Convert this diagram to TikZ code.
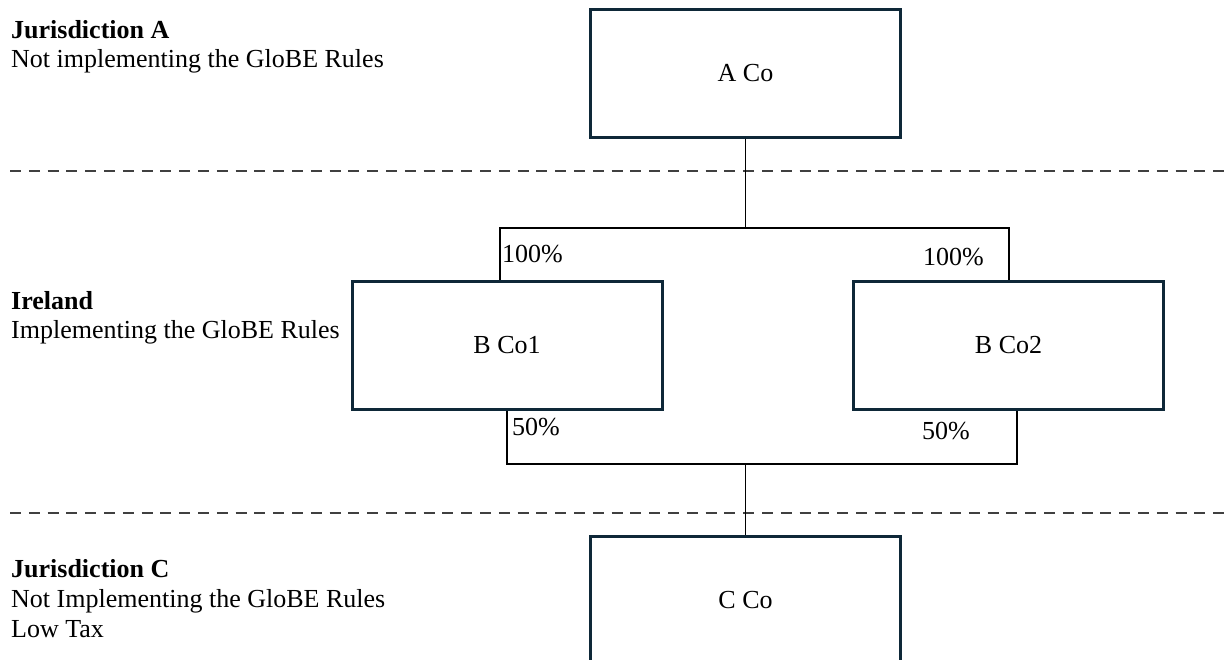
\documentclass[tikz,border=0pt]{standalone}
\usepackage{fontspec}
\setmainfont{Liberation Serif}
\definecolor{boxnavy}{RGB}{14,40,56}
\definecolor{rulegray}{RGB}{64,64,64}
\begin{document}
\begin{tikzpicture}[x=1pt,y=-1pt,
  font=\fontsize{26}{30}\selectfont,
  entity/.style={draw=boxnavy, line width=3pt, fill=white,
    minimum width=310pt, minimum height=128pt, inner sep=0pt},
  link/.style={draw=black, line width=1.3pt},
  border/.style={draw=rulegray, line width=2pt, dash pattern=on 11pt off 7.8pt},
  lbl/.style={anchor=base west, inner sep=0pt}]
\clip (0,0) rectangle (1224,659);
\fill[white] (0,0) rectangle (1224,659);

% jurisdiction separators
\coordinate (d1w) at (10,171);
\coordinate (d1e) at (1224,171);
\coordinate (d2w) at (10,513);
\coordinate (d2e) at (1224,513);
\draw[border] (d1w) -- (d1e);
\draw[border] (d2w) -- (d2e);

% entities
\node[entity] (A)  at (745.5,73)  {A Co};
\node[entity] (B1) at (507,345)   {B Co1};
\node[entity] (B2) at (1008.5,345){B Co2};
\node[entity] (C)  at (745.5,600) {C Co};

% ownership links A Co -> B Co1, B Co2
\coordinate (ta) at (745.5,228);
\coordinate (t1) at (500,228);
\coordinate (t2) at (1009,228);
\draw[link] (A.south) -- (ta);
\draw[link] (B1.north -| t1) -- (t1) -- (t2) -- (B2.north -| t2);

% ownership links B Co1, B Co2 -> C Co
\coordinate (bc) at (745.5,464);
\coordinate (u1) at (507,464);
\coordinate (u2) at (1017,464);
\draw[link] (B1.south -| u1) -- (u1) -- (u2) -- (B2.south -| u2);
\draw[link] (bc) -- (C.north);

% shareholdings
\node[lbl] (p1) at (502,262) {100\%};
\node[lbl] (p2) at (923,265) {100\%};
\node[lbl] (p3) at (512,435) {50\%};
\node[lbl] (p4) at (922,439) {50\%};

% jurisdiction captions
\node[lbl] (jA)  at (11,38)  {\textbf{Jurisdiction A}};
\node[lbl] (jA2) at (11,67)  {Not implementing the GloBE Rules};
\node[lbl] (jI)  at (11,309) {\textbf{Ireland}};
\node[lbl] (jI2) at (11,338) {Implementing the GloBE Rules};
\node[lbl] (jC)  at (11,577) {\textbf{Jurisdiction C}};
\node[lbl] (jC2) at (11,607) {Not Implementing the GloBE Rules};
\node[lbl] (jC3) at (11,637) {Low Tax};
\end{tikzpicture}
\end{document}
